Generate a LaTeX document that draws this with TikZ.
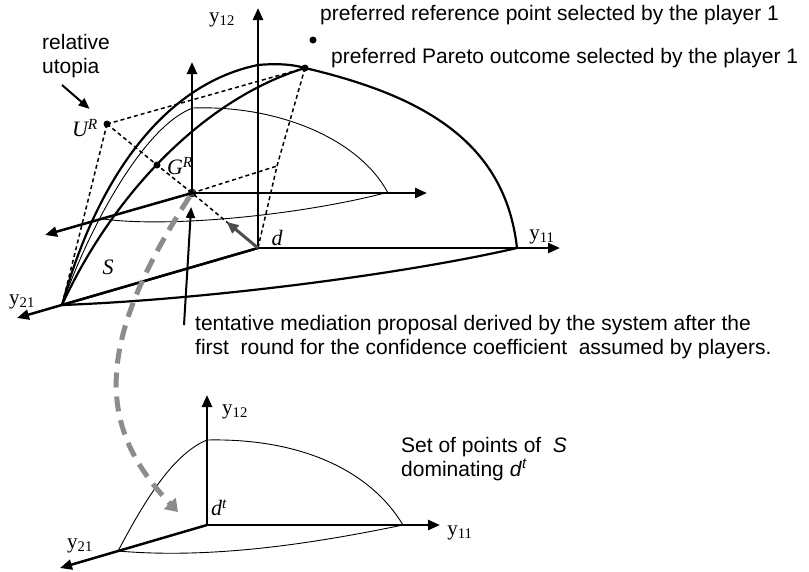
\documentclass[tikz,border=0pt]{standalone}
\usepackage{fontspec}
\setmainfont{Liberation Sans}
\newfontfamily\tnr{Liberation Serif}
\usetikzlibrary{arrows.meta}

\begin{document}
\begin{tikzpicture}[x=1pt,y=-1pt,
    axis/.style={line width=2.5pt, -{Triangle[length=12pt,width=10pt]}},
    rim/.style={line width=2.2pt},
    trace/.style={line width=0.9pt},
    guide/.style={line width=1.5pt, dash pattern=on 4pt off 3pt},
    pointer/.style={line width=2pt, -{Triangle[length=11pt,width=9pt]}},
    spot/.style={circle, fill=black, inner sep=0pt, minimum size=7pt},
    note/.style={inner sep=0pt, anchor=west, align=left, font=\fontsize{21}{24}\selectfont},
    var/.style={inner sep=0pt, font=\tnr\fontsize{21}{24}\selectfont},
    sym/.style={inner sep=0pt, font=\tnr\itshape\fontsize{22}{24}\selectfont}]
    \useasboundingbox (0,0) rectangle (809,571);
    % Frame is the 809x571 image: x to the right, y downwards, in pixels.

    % Upper figure: disagreement point d and the set S.
    \coordinate (d) at (258,248);
    \coordinate (y12end) at (258,8);
    \coordinate (y11end) at (560,248);
    \coordinate (y21end) at (17,318);
    \coordinate (foot21) at (62,305);
    \coordinate (top12) at (258,65);
    \coordinate (foot11) at (517,248);
    \coordinate (q) at (277,166);
    \node[spot] (par) at (305,68) {};
    \node[spot] (refpt) at (313,40) {};
    \node[spot] (ur) at (107,124) {};
    \node[spot] (gr) at (157,165) {};
    \node[spot, minimum size=9pt, fill=black!75] (med) at (192,193) {};

    % axes moved to the mediation point
    \coordinate (medup) at (192,62);
    \coordinate (medright) at (427,193);
    \coordinate (medleft) at (45,235);

    % dashed construction lines
    \draw[guide] (ur.center) -- (par.center);
    \draw[guide] (ur.center) -- (foot21);
    \draw[guide] (ur.center) -- (gr.center) -- (med.center) -- (d);
    \draw[guide] (med.center) -- (q);
    \draw[guide] (par.center) -- (q) -- (d);

    % boundary of S
    \draw[rim] (foot21) .. controls (95,185) and (160,85) .. (top12)
      .. controls (280,63) and (295,65) .. (par.center)
      .. controls (420,95) and (505,140) .. (foot11);
    \draw[rim] (foot21) .. controls (110,200) and (200,100) .. (par.center);
    \draw[rim] (foot21) .. controls (200,300) and (400,275) .. (foot11);
    \draw[rim] (d) -- (foot21);

    % part of S above the mediation point
    \coordinate (medtop) at (193,108);
    \coordinate (medside) at (388,193);
    \coordinate (medfoot) at (103,219);
    \coordinate (medrim) at (385,193);
    \draw[trace] (foot21) .. controls (90,225) and (145,125) .. (medtop)
      .. controls (280,105) and (360,140) .. (medside);
    \draw[trace] (medfoot) .. controls (170,228) and (300,215) .. (medrim);

    \draw[axis] (d) -- (y12end);
    \draw[axis] (d) -- (y11end);
    \draw[axis] (d) -- (y21end);
    \draw[axis] (med.center) -- (medup);
    \draw[axis] (med.center) -- (medright);
    \draw[axis] (med.center) -- (medleft);

    \draw[line width=3pt, black!70, -{Triangle[length=12pt,width=10pt]}, shorten >=45pt] (d) -- (med.center);

    \node[var] (l12) at (222,20) {y\textsubscript{12}};
    \node[var] (l11) at (542,237) {y\textsubscript{11}};
    \node[var] (l21) at (22,302) {y\textsubscript{21}};
    \node[sym] (lur) at (85,128) {U\textsuperscript{R}};
    \node[sym] (lgr) at (180,166) {G\textsuperscript{R}};
    \node[sym] (ld) at (277,238) {d};
    \node[sym] (ls) at (108,267) {S};

    \node[note] (refnote) at (320,15) {preferred reference point selected by the player 1};
    \node[note] (parnote) at (331,58) {preferred Pareto outcome selected by the player 1};
    \node[note] (utopia) at (42,56) {relative\\utopia};
    \coordinate (utail) at (62,85);
    \draw[pointer, shorten >=23pt] (utail) -- (ur.center);

    \node[note] (tentative) at (195,337)
      {tentative mediation proposal derived by the system after the\\
       first\ \ round for the confidence coefficient\ \ assumed by players.};
    \coordinate (ttail) at (184,325);
    \draw[pointer, shorten >=14pt] (ttail) -- (med.center);

    % Lower figure: the set seen from d^t.
    \coordinate (dt) at (207,525);
    \coordinate (b12end) at (207,395);
    \coordinate (b11end) at (440,525);
    \coordinate (b21end) at (60,568);
    \coordinate (bfoot21) at (118,551);
    \coordinate (btop12) at (207,440);
    \coordinate (bfoot11) at (403,525);

    \draw[trace] (bfoot21) .. controls (140,510) and (170,455) .. (btop12)
      .. controls (300,438) and (370,470) .. (bfoot11);
    \draw[trace] (bfoot21) .. controls (220,560) and (330,540) .. (bfoot11);
    \draw[axis] (dt) -- (b12end);
    \draw[axis] (dt) -- (b11end);
    \draw[axis] (dt) -- (b21end);

    \node[var] (b12) at (235,412) {y\textsubscript{12}};
    \node[var] (b11) at (460,533) {y\textsubscript{11}};
    \node[var] (b21) at (80,546) {y\textsubscript{21}};
    \node[sym] (ldt) at (219,508) {d\textsuperscript{t}};
    \node[note] (domset) at (401,459) {Set of points of\ \ \textit{S}\\dominating \textit{d}\textsuperscript{\textit{t}}};

    % move from the first round to the next one
    \coordinate (land) at (178,512);
    \draw[line width=5pt, black!45, dash pattern=on 15pt off 9pt,
      -{Triangle[length=12pt,width=16pt]}]
      (med) .. controls (90,350) and (100,430) .. (land);
\end{tikzpicture}
\end{document}
